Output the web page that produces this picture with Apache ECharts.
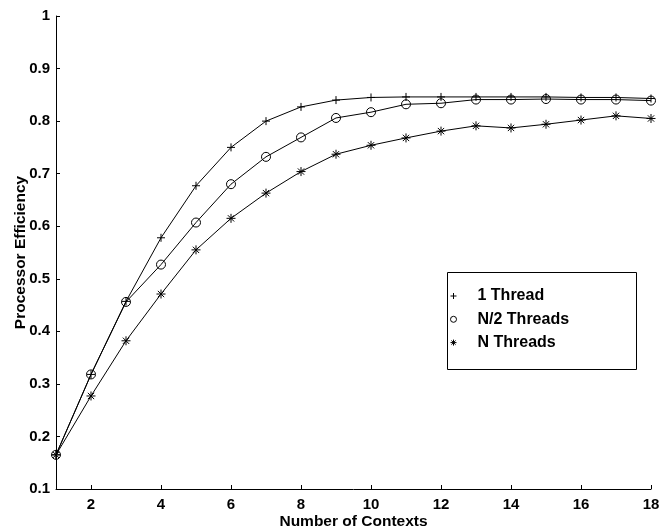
<!DOCTYPE html>
<html>
<head>
<meta charset="utf-8">
<script src="https://cdn.jsdelivr.net/npm/echarts@6/dist/echarts.min.js"></script>
<style>
html,body{margin:0;padding:0;background:#fff;}
#chart{width:659px;height:530px;}
</style>
</head>
<body>
<div id="chart"></div>
<script>
const contexts = [1,2,3,4,5,6,7,8,9,10,11,12,13,14,15,16,17,18];
const oneThread = [0.165,0.318,0.457,0.578,0.677,0.750,0.800,0.827,0.840,0.845,0.846,0.846,0.846,0.846,0.846,0.845,0.845,0.843];
const halfThreads = [0.165,0.318,0.456,0.527,0.607,0.680,0.732,0.769,0.806,0.817,0.832,0.834,0.841,0.841,0.842,0.841,0.841,0.839];
const nThreads = [0.165,0.277,0.382,0.471,0.555,0.615,0.663,0.704,0.737,0.754,0.768,0.781,0.791,0.787,0.794,0.802,0.810,0.805];
const xTicks = [2,4,6,8,10,12,14,16,18];
const seriesNames = ['1 Thread','N/2 Threads','N Threads'];

const PLUS = 'path://M5,0 L5,10 M0,5 L10,5';
const STAR = 'path://M5,0 L5,10 M0,5 L10,5 M1.5,1.5 L8.5,8.5 M1.5,8.5 L8.5,1.5';
const FONT = '"Liberation Sans", Arial, sans-serif';

function pairs(ys){ return contexts.map((x,i)=>[x, ys[i]]); }

const chart = echarts.init(document.getElementById('chart'));
const markerStyle = {color:'transparent', borderColor:'#000', borderWidth:1};
function mk(name, data, symbol, size){
  return {
    name: name, type:'line', data: pairs(data),
    symbol: symbol, symbolSize: size, showSymbol:true,
    lineStyle:{color:'#000', width:1},
    itemStyle: markerStyle,
    emphasis:{disabled:true},
    z: 2
  };
}
chart.setOption({
  animation:false,
  backgroundColor:'#fff',
  grid:{left:56, right:8, top:16, bottom:41, containLabel:false, outerBoundsMode:'none'},
  xAxis:{
    type:'value', min:1, max:18,
    name:'Number of Contexts', nameLocation:'middle', nameGap:25, nameMoveOverlap:false,
    nameTextStyle:{fontFamily:FONT, fontWeight:'bold', fontSize:15.5, color:'#000'},
    axisLine:{show:true, lineStyle:{color:'#000', width:1}},
    axisTick:{show:true, inside:true, length:4, customValues:xTicks, lineStyle:{color:'#000'}},
    axisLabel:{customValues:xTicks, margin:8, fontFamily:FONT, fontWeight:'bold', fontSize:15, color:'#000'},
    splitLine:{show:false}
  },
  yAxis:{
    type:'value', min:0.1, max:1, interval:0.1,
    name:'Processor Efficiency', nameLocation:'middle', nameGap:27, nameMoveOverlap:false,
    nameTextStyle:{fontFamily:FONT, fontWeight:'bold', fontSize:15.5, color:'#000'},
    axisLine:{show:true, lineStyle:{color:'#000', width:1}},
    axisTick:{show:true, inside:true, length:4, lineStyle:{color:'#000'}},
    axisLabel:{margin:6, fontFamily:FONT, fontWeight:'bold', fontSize:15, color:'#000',
      formatter: v => String(Number(v.toFixed(1)))},
    splitLine:{show:false}
  },
  legend:{
    left:446, top:270, orient:'vertical',
    padding:[18,10,16,4],
    itemWidth:22, itemHeight:6, itemGap:7.3,
    selectedMode:false,
    itemStyle: markerStyle,
    textStyle:{fontFamily:FONT, fontWeight:'bold', fontSize:16, color:'#000', lineHeight:16, padding:[0,0,0,8]},
    data:[
      {name:seriesNames[0], icon:PLUS},
      {name:seriesNames[1], icon:'circle'},
      {name:seriesNames[2], icon:STAR}
    ]
  },
  graphic:[{
    type:'rect', left:445, top:270, z:100,
    shape:{width:189, height:97},
    style:{fill:'none', stroke:'#000', lineWidth:1}
  }],
  series:[
    mk(seriesNames[2], nThreads, STAR, 9),
    mk(seriesNames[1], halfThreads, 'circle', 9),
    mk(seriesNames[0], oneThread, PLUS, 8)
  ]
});
</script>
</body>
</html>
